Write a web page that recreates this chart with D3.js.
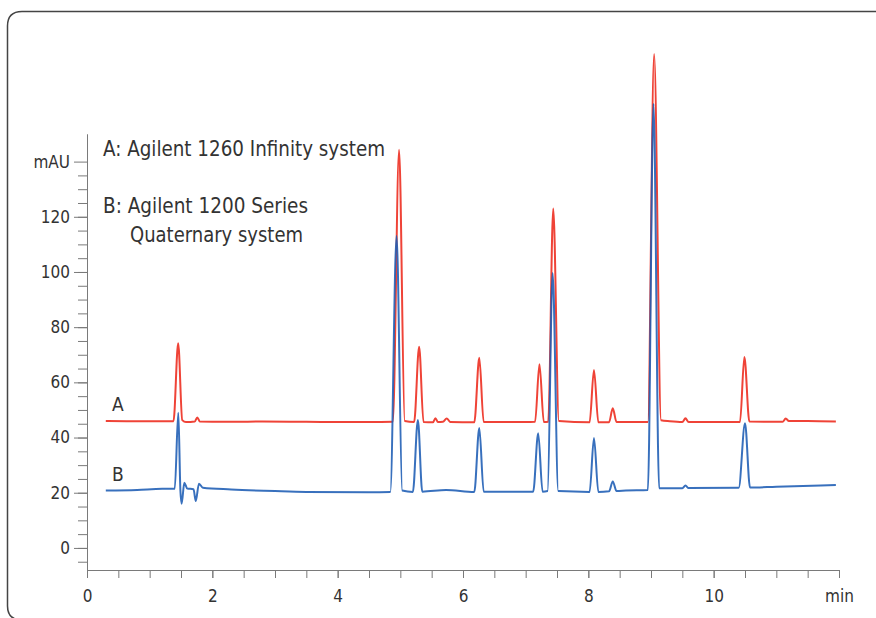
<!DOCTYPE html>
<html>
<head>
<meta charset="utf-8">
<script src="https://cdn.jsdelivr.net/npm/d3@7"></script>
<style>
  body { margin: 0; background: #fff; }
  svg { display: block; }
  text { font-family: "Liberation Sans Narrow", "DejaVu Sans Condensed", "Roboto", sans-serif; font-stretch: condensed; fill: #333; }
  .axis path, .axis line { stroke: #7a7a7a; stroke-width: 1; }
</style>
</head>
<body>
<svg id="chart"></svg>
<script>
// trace A: Agilent 1260 Infinity system  [min, mAU]
var traceA = [
  [0.3, 46.0], [1.0, 45.9], [1.38, 45.9], [1.455, 74.2], [1.52, 46.3], [1.58, 45.6],
  [1.72, 45.8], [1.76, 47.3], [1.80, 45.8], [2.2, 45.7], [2.8, 45.8], [3.5, 45.7],
  [4.5, 45.6], [4.88, 45.7], [4.98, 144.3], [5.07, 46.0], [5.22, 45.6], [5.30, 72.9],
  [5.37, 45.6], [5.52, 45.5], [5.56, 47.0], [5.60, 45.6], [5.68, 45.7], [5.74, 46.9],
  [5.80, 45.6], [6.18, 45.5], [6.26, 68.9], [6.33, 45.6], [7.0, 45.6], [7.15, 45.7],
  [7.22, 66.6], [7.29, 45.6], [7.36, 45.7], [7.44, 123.0], [7.53, 46.0], [8.02, 45.5],
  [8.09, 64.5], [8.16, 45.5], [8.33, 45.5], [8.39, 50.6], [8.45, 45.6], [8.95, 45.6],
  [9.05, 179.0], [9.16, 46.3], [9.3, 45.9], [9.5, 45.6], [9.55, 47.0], [9.60, 45.6],
  [10.0, 45.6], [10.42, 45.6], [10.49, 69.2], [10.57, 45.8], [11.1, 45.7], [11.15, 46.9],
  [11.2, 46.0], [11.5, 46.0], [11.95, 45.8]
];

// trace B: Agilent 1200 Series Quaternary system
var traceB = [
  [0.3, 20.8], [0.8, 21.0], [1.2, 21.4], [1.40, 21.4], [1.457, 49.0], [1.49, 21.0],
  [1.51, 16.0], [1.553, 23.6], [1.60, 21.5], [1.70, 21.3], [1.735, 17.0], [1.787, 23.3],
  [1.85, 21.8], [2.3, 21.2], [3.0, 20.6], [3.5, 20.3], [4.5, 20.2], [4.84, 20.3],
  [4.94, 113.0], [5.03, 20.8], [5.20, 20.3], [5.28, 46.4], [5.35, 20.4], [5.73, 21.0],
  [6.18, 20.3], [6.26, 43.5], [6.33, 20.4], [7.12, 20.4], [7.20, 41.6], [7.27, 20.4],
  [7.35, 20.6], [7.43, 99.6], [7.52, 20.6], [8.02, 20.3], [8.09, 39.8], [8.16, 20.3],
  [8.33, 20.5], [8.39, 24.1], [8.45, 20.6], [8.6, 20.8], [8.95, 21.0], [9.04, 161.0],
  [9.13, 21.6], [9.5, 21.6], [9.55, 22.6], [9.6, 21.7], [10.4, 21.8], [10.5, 45.2],
  [10.58, 21.9], [11.0, 22.2], [11.95, 22.8]
];

var xMajor = [0, 2, 4, 6, 8, 10, 12];
var xLabels = ["0", "2", "4", "6", "8", "10", "min"];
var yMajor = [0, 20, 40, 60, 80, 100, 120, 140];
var yLabels = ["0", "20", "40", "60", "80", "100", "120", "mAU"];
var legendLines = ["A: Agilent 1260 Infinity system", "B: Agilent 1200 Series", "Quaternary system"];

var width = 876, height = 618;
var svg = d3.select("#chart").attr("width", width).attr("height", height);

// frame (bottom edge runs just outside the picture)
svg.append("path")
    .attr("d", "M880,11.5 L22,11.5 Q7.5,11.5 7.5,26 L7.5,606 Q7.5,620 22,620 L880,620")
    .attr("fill", "none")
    .attr("stroke", "#444")
    .attr("stroke-width", 1.5);

var x = d3.scaleLinear().domain([0, 12]).range([87, 839]);
var y = d3.scaleLinear().domain([-8, 150]).range([570, 134]);

// x axis
var xMinor = d3.range(0, 12.01, 0.5);
svg.append("g").attr("class", "axis")
    .attr("transform", "translate(0,570)")
    .call(d3.axisBottom(x).tickValues(xMinor).tickSize(8).tickFormat("").tickSizeOuter(0));
svg.append("g").attr("class", "axis")
    .attr("transform", "translate(0,570)")
    .call(d3.axisBottom(x).tickValues(xMajor).tickSize(8).tickSizeOuter(0)
        .tickFormat((d, i) => xLabels[i]))
    .call(g => g.selectAll("text").attr("dy", "1.25em").style("font-size", "17px"));

// y axis
var yMinor = d3.range(-5, 136, 5);
svg.append("g").attr("class", "axis")
    .attr("transform", "translate(87,0)")
    .call(d3.axisLeft(y).tickValues(yMinor).tickSize(9).tickFormat("").tickSizeOuter(0));
svg.append("g").attr("class", "axis")
    .attr("transform", "translate(87,0)")
    .call(d3.axisLeft(y).tickValues(yMajor).tickSize(13).tickSizeOuter(0)
        .tickFormat((d, i) => yLabels[i]))
    .call(g => g.selectAll("text").attr("x", -17).style("font-size", "17px"));

// traces
var line = d3.line()
    .x(d => x(d[0]))
    .y(d => y(d[1]))
    .curve(d3.curveMonotoneX);

svg.append("path")
    .datum(traceA)
    .attr("d", line)
    .attr("fill", "none")
    .attr("stroke", "#ef4337")
    .attr("stroke-width", 2)
    .attr("stroke-linejoin", "round");

svg.append("path")
    .datum(traceB)
    .attr("d", line)
    .attr("fill", "none")
    .attr("stroke", "#1c5cb4")
    .attr("stroke-width", 2)
    .attr("stroke-opacity", 0.88)
    .attr("stroke-linejoin", "round");

// trace labels
svg.append("text").attr("x", x(0.4)).attr("y", y(49.5)).style("font-size", "19px").text("A");
svg.append("text").attr("x", x(0.4)).attr("y", y(24.2)).style("font-size", "19px").text("B");

// legend
var legendX = [103, 103, 130], legendY = [156, 213, 242], legendW = [282, 205, 173];
svg.selectAll("text.legend")
    .data(legendLines)
    .enter().append("text")
    .attr("class", "legend")
    .attr("x", (d, i) => legendX[i])
    .attr("y", (d, i) => legendY[i])
    .attr("textLength", (d, i) => legendW[i])
    .attr("lengthAdjust", "spacingAndGlyphs")
    .style("font-size", "22px")
    .text(d => d);
</script>
</body>
</html>
